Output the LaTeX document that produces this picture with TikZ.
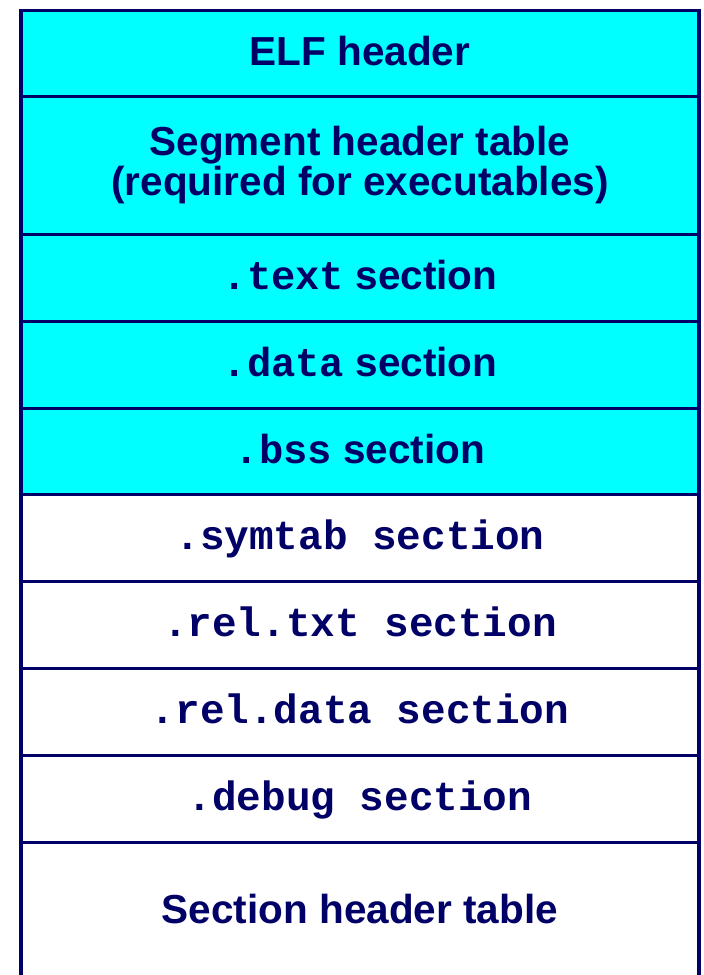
\documentclass[tikz,border=0pt]{standalone}
\usepackage{fontspec}
\setmainfont{Liberation Sans}
\newfontfamily\monobold{Liberation Mono}
\definecolor{navy}{RGB}{0,0,102}
\definecolor{elfcyan}{RGB}{0,255,255}
\newcommand{\sfb}{\fontsize{40.5}{40}\selectfont\bfseries}
\newcommand{\mono}[1]{{\monobold\bfseries #1}}
\tikzset{
  row/.style={draw=navy, line width=3.2pt, minimum width=678pt, inner sep=0pt,
    text=navy, font=\sfb, align=center, anchor=north},
  oneline/.style={text height=30pt, text depth=6pt},
  cyanrow/.style={row, fill=elfcyan},
  whiterow/.style={row, fill=white},
  monorow/.style={whiterow, oneline, font=\fontsize{41}{41}\monobold\bfseries}
}
\begin{document}
\begin{tikzpicture}[x=1pt,y=-1pt]
\useasboundingbox (0,0) rectangle (704,975);
\fill[white] (0,0) rectangle (704,975);
\node[cyanrow, oneline, minimum height=86pt] (elf) at (360,8.5) {ELF header};
\node[cyanrow, minimum height=138pt] (seg) at (360,94.5) {Segment header table\\(required for executables)};
\node[cyanrow, oneline, minimum height=87pt] (text) at (360,232.5) {\mono{.text} section};
\node[cyanrow, oneline, minimum height=87pt] (data) at (360,319.5) {\mono{.data} section};
\node[cyanrow, oneline, minimum height=86pt] (bss) at (360,406.5) {\mono{.bss} section};
\node[monorow, minimum height=87pt] (symtab) at (360,492.5) {.symtab section};
\node[monorow, minimum height=87pt] (reltxt) at (360,579.5) {.rel.txt section};
\node[monorow, minimum height=87pt] (reldata) at (360,666.5) {.rel.data section};
\node[monorow, minimum height=87pt] (debug) at (360,753.5) {.debug section};
\node[whiterow, oneline, minimum height=139pt] (sht) at (360,840.5) {Section header table};
\end{tikzpicture}
\end{document}
